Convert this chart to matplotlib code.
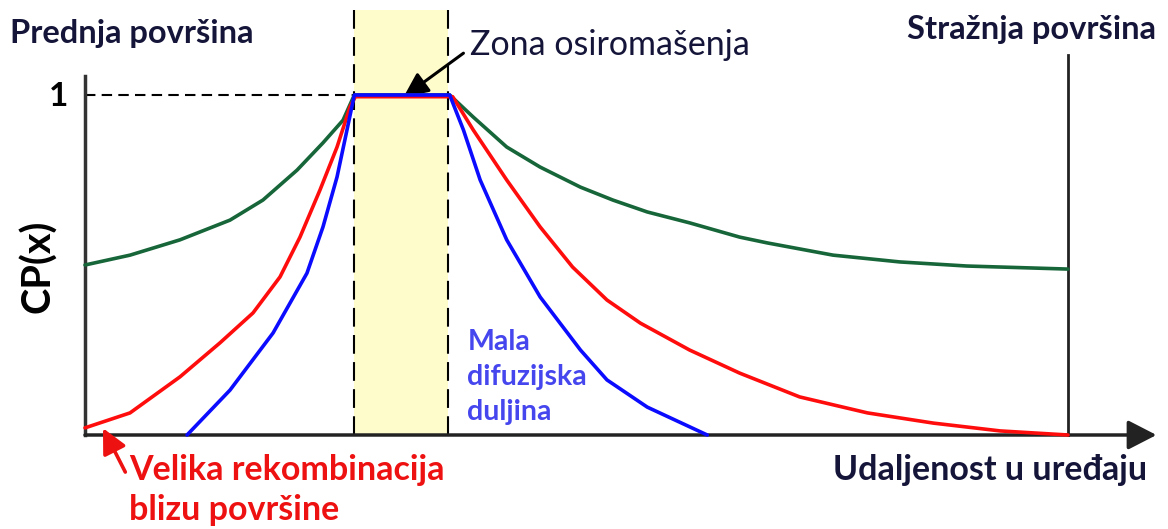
import matplotlib.pyplot as plt

# udaljenost u uređaju (0 = prednja, 100 = stražnja površina), CP(x) u [0, 1]
zona = (27.4, 36.9)
zadnja = 100.0

zelena_x = [0, 4.58, 9.66, 14.75, 18.1, 21.57, 24.2, 26.25, 27.4,
            37.1, 39.5, 42.9, 46.3, 50.4, 53.7, 57.2, 61.5, 66.6, 69.4,
            76.1, 82.9, 89.7, 100]
zelena_y = [0.50, 0.529, 0.574, 0.632, 0.691, 0.779, 0.859, 0.926, 1.0,
            1.0, 0.935, 0.847, 0.788, 0.729, 0.691, 0.656, 0.624, 0.582, 0.565,
            0.529, 0.509, 0.497, 0.488]

crvena_x = [0, 4.58, 9.66, 13.73, 17.09, 19.84, 21.87, 23.91, 25.64, 26.96,
            27.5, 37.4, 39.5, 42.9, 46.3, 49.6, 53.1, 56.5, 61.5, 66.6,
            72.7, 79.6, 86.3, 93.1, 100]
crvena_y = [0.021, 0.065, 0.171, 0.271, 0.359, 0.465, 0.582, 0.721, 0.847,
            0.965, 0.995, 0.995, 0.897, 0.75, 0.612, 0.494, 0.397, 0.329, 0.25,
            0.182, 0.112, 0.065, 0.035, 0.012, 0.0]

plava_x = [10.38, 14.75, 19.13, 22.58, 24.21, 25.64, 26.65, 27.4,
           37.1, 38.5, 40.2, 42.9, 46.3, 50.4, 53.1, 57.2, 63.3]
plava_y = [0.0, 0.132, 0.30, 0.476, 0.612, 0.759, 0.897, 1.0,
           1.0, 0.897, 0.75, 0.574, 0.406, 0.25, 0.162, 0.082, 0.0]

tamna = "#15153a"
font = "Lato"

fig = plt.figure(figsize=(11.68, 5.29), dpi=100)
ax = fig.add_axes([0, 0, 1, 1])
ax.set_xlim(-85 / 9.83, (1168 - 85) / 9.83)
ax.set_ylim(-(529 - 435) / 340, 435 / 340)
ax.axis("off")

# zona osiromašenja
ax.fill_between(zona, 0, 1.25, color="#fffccc", lw=0, zorder=1)
for xz in zona:
    ax.plot([xz, xz], [0, 1.25], color="black", lw=1.5, ls=(0, (9, 4)), zorder=2)
ax.plot([0, zona[0]], [1, 1], color="black", lw=1.5, ls=(0, (5, 3)), zorder=2)

# osi
ax.plot([0, 0], [0, 1.055], color="#333333", lw=2.5, zorder=3)
ax.plot([zadnja, zadnja], [0, 1.118], color="#222222", lw=2.0, zorder=3)
ax.annotate("", xy=(109.0, 0), xytext=(0, 0),
            arrowprops=dict(arrowstyle="-|>,head_length=1.75,head_width=0.9",
                            color="#222222", lw=2.5, shrinkA=0, shrinkB=0),
            zorder=3)

# krivulje
kw = dict(lw=2.6, solid_joinstyle="round", solid_capstyle="round")
ax.plot(zelena_x, zelena_y, color="#17663a", zorder=4, **kw)
ax.plot(crvena_x, crvena_y, color="#ff0d0d", zorder=5, **kw)
ax.plot(plava_x, plava_y, color="#0b0bff", zorder=6, **kw)

# tekstovi
ax.text(-7.65, 1.153, "Prednja površina", fontsize=23.5, fontweight="bold",
        color=tamna, family=font, va="baseline", ha="left")
ax.text(83.6, 1.165, "Stražnja površina", fontsize=23.5, fontweight="bold",
        color=tamna, family=font, va="baseline", ha="left")
ax.text(-1.75, 0.995, "1", fontsize=24, fontweight="bold", color="black",
        family=font, va="center", ha="right")
ax.text(-4.73, 0.497, "CP(x)", fontsize=28.5, fontweight="bold", color="black",
        family=font, va="center", ha="center", rotation=90)
ax.text(39.2, 1.118, "Zona osiromašenja", fontsize=24.5, color=tamna,
        family=font, va="baseline", ha="left")
ax.annotate("", xy=(32.4, 0.994), xytext=(38.5, 1.123),
            arrowprops=dict(arrowstyle="-|>,head_length=1.5,head_width=0.7",
                            color="black", lw=2.2, shrinkA=0, shrinkB=0))
ax.text(108.1, -0.132, "Udaljenost u uređaju", fontsize=24.5,
        fontweight="bold", color=tamna, family=font, va="baseline", ha="right")
ax.text(4.5, -0.132, "Velika rekombinacija", fontsize=24.5,
        fontweight="bold", color="#ee1111", family=font, va="baseline",
        ha="left")
ax.text(4.5, -0.25, "blizu površine", fontsize=24.5,
        fontweight="bold", color="#ee1111", family=font, va="baseline",
        ha="left")
ax.annotate("", xy=(1.83, 0.02), xytext=(4.1, -0.109),
            arrowprops=dict(arrowstyle="-|>,head_length=1.5,head_width=0.75",
                            color="#ee1111", lw=2.6, shrinkA=0, shrinkB=0))
for i, red in enumerate(["Mala", "difuzijska", "duljina"]):
    ax.text(38.9, 0.25 - i * 0.103, red, fontsize=20.5, fontweight="bold",
            color="#4646ee", family=font, va="baseline", ha="left")

fig.savefig("out.png", dpi=100)
plt.close(fig)
